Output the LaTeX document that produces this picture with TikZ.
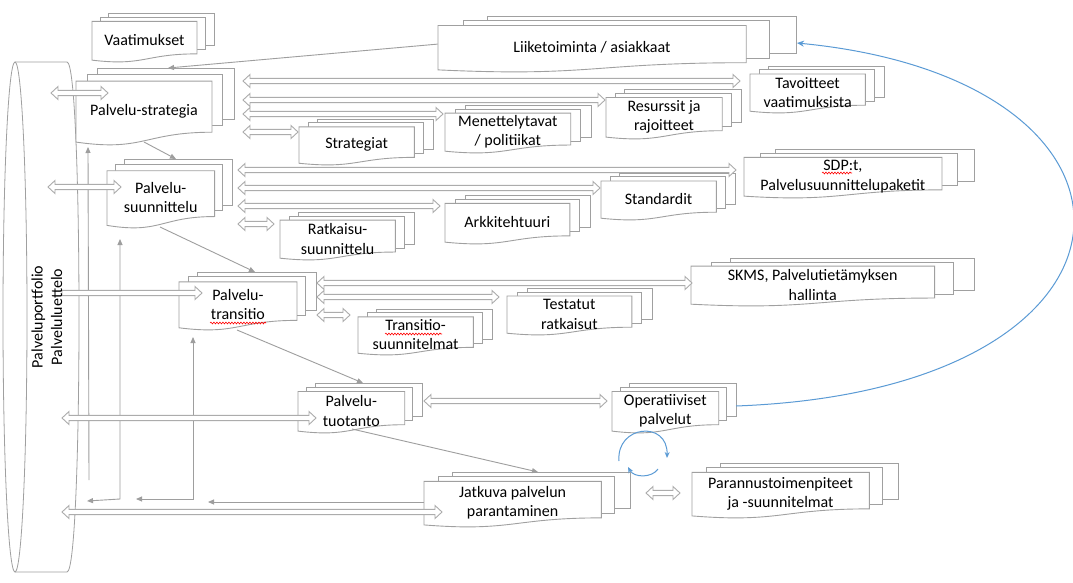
\documentclass[tikz,border=0pt]{standalone}
\usepackage{fontspec}
\setmainfont{Carlito}
\usetikzlibrary{arrows.meta,decorations.pathmorphing}

\definecolor{pageedge}{RGB}{160,160,160}
\definecolor{baredge}{RGB}{172,172,172}
\definecolor{linkgray}{RGB}{158,158,158}
\definecolor{flowblue}{RGB}{91,155,213}

\tikzset{
  docpage/.style={draw=pageedge, fill=white, line width=0.9pt},
  doctext/.style={align=center, font=\fontsize{16}{19.5}\selectfont, inner sep=0pt, text=black},
  docarea/.style={inner sep=0pt, draw=none},
  blockarr/.style={draw=baredge, fill=white, line width=0.9pt, line join=miter},
  link/.style={draw=linkgray, line width=0.9pt, -{Triangle[length=6pt,width=5pt]}},
  linkboth/.style={draw=linkgray, line width=0.9pt, {Triangle[length=6pt,width=5pt]}-{Triangle[length=6pt,width=5pt]}},
  flow/.style={draw=flowblue, line width=1pt, -{Stealth[length=7pt,width=6pt]}},
  flowsmall/.style={draw=flowblue, line width=1pt, -{Stealth[length=6pt,width=5pt]}},
  squiggle/.style={draw=red, line width=0.6pt, decorate, decoration={snake, amplitude=0.9pt, segment length=3pt}},
  cylinder line/.style={draw=pageedge, line width=0.8pt},
}

% stacked-pages shape: name, left, top, width, height, text
\newcommand\multidoc[6]{%
  \pgfmathsetmacro\mdA{#2+0.138*#4}%
  \pgfmathsetmacro\mdB{#2+#4}%
  \pgfmathsetmacro\mdC{#3+0.666*#5}%
  \filldraw[docpage] (\mdA,#3) rectangle (\mdB,\mdC);
  \pgfmathsetmacro\mdA{#2+0.071*#4}%
  \pgfmathsetmacro\mdB{#2+0.926*#4}%
  \pgfmathsetmacro\mdD{#3+0.084*#5}%
  \pgfmathsetmacro\mdC{#3+0.752*#5}%
  \filldraw[docpage] (\mdA,\mdD) rectangle (\mdB,\mdC);
  \pgfmathsetmacro\mdB{#2+0.861*#4}%
  \pgfmathsetmacro\mdD{#3+0.170*#5}%
  \pgfmathsetmacro\mdC{#3+0.834*#5}%
  \pgfmathsetmacro\mdE{#3+0.962*#5}%
  \pgfmathsetmacro\mdF{#3+1.090*#5}%
  \pgfmathsetmacro\mdG{#2+0.430*#4}%
  \filldraw[docpage] (#2,\mdE) .. controls (\mdG,\mdF) and (\mdG,\mdC) .. (\mdB,\mdC)
     -- (\mdB,\mdD) -- (#2,\mdD) -- cycle;
  \pgfmathsetmacro\mdH{#3+0.502*#5}%
  \pgfmathsetmacro\mdW{0.861*#4}%
  \pgfmathsetmacro\mdV{0.664*#5}%
  \node[docarea, minimum width=\mdW pt, minimum height=\mdV pt] (#1) at (\mdG,\mdH) {};
  \pgfmathsetmacro\mdH{#3+0.56*#5}%
  \node[doctext] (#1-text) at (\mdG,\mdH) {#6};
}

% hollow block arrows: from x, to x, y
\newcommand\bothbar[3]{%
  \filldraw[blockarr] (#1,#3) -- (#1+7,#3-6.5) -- (#1+7,#3-2.6) -- (#2-7,#3-2.6)
    -- (#2-7,#3-6.5) -- (#2,#3) -- (#2-7,#3+6.5) -- (#2-7,#3+2.6)
    -- (#1+7,#3+2.6) -- (#1+7,#3+6.5) -- cycle;}
\newcommand\rightbar[3]{%
  \filldraw[blockarr] (#1,#3-2.6) -- (#2-7,#3-2.6) -- (#2-7,#3-6.5) -- (#2,#3)
    -- (#2-7,#3+6.5) -- (#2-7,#3+2.6) -- (#1,#3+2.6) -- cycle;}

\begin{document}
\begin{tikzpicture}[x=1pt,y=-1pt]
\useasboundingbox (0,0) rectangle (1073,583);
\fill[white] (0,0) rectangle (1073,583);

% service portfolio cylinder
\draw[cylinder line] (15,317) ellipse [x radius=12, y radius=255];
\draw[cylinder line] (15,62) -- (67,62) .. controls (83,62) and (83,572) .. (67,572) -- (15,572);

% documents
\multidoc{vaat}{92}{13}{122}{49}{Vaatimukset}
\multidoc{liike}{438}{16}{358}{56}{Liiketoiminta / asiakkaat}
\multidoc{pstrat}{76}{68}{158}{77}{Palvelu-strategia}
\multidoc{tavo}{750}{66}{134}{47}{Tavoitteet\\vaatimuksista}
\multidoc{resu}{606}{89}{135}{50}{Resurssit ja\\rajoitteet}
\multidoc{mene}{445}{105}{146}{48}{Menettelytavat\\/ politiikat}
\multidoc{strat}{299}{119}{134}{46}{Strategiat}
\multidoc{psuun}{107}{159}{125}{69}{Palvelu-\\suunnittelu}
\multidoc{sdp}{744}{149}{230}{49}{SDP:t,\\Palvelusuunnittelupaketit}
\multidoc{stand}{601}{173}{134}{47}{Standardit}
\multidoc{arkk}{445}{195}{145}{49}{Arkkitehtuuri}
\multidoc{ratk}{280}{212}{134}{48}{Ratkaisu-\\suunnittelu}
\multidoc{ptrans}{179}{272}{137}{58}{Palvelu-\\transitio}
\multidoc{skms}{691}{258}{283}{48}{SKMS, Palvelutietämyksen\\hallinta}
\multidoc{testa}{507}{288}{145}{47}{Testatut\\ratkaisut}
\multidoc{trsuun}{358}{309}{134}{46}{Transitio-\\suunnitelmat}
\multidoc{ptuot}{298}{383}{124}{50}{Palvelu-\\tuotanto}
\multidoc{oper}{612}{383}{124}{50}{Operatiiviset\\palvelut}
\multidoc{jatk}{424}{472}{206}{55}{Jatkuva palvelun\\parantaminen}
\multidoc{paran}{692}{463}{206}{55}{Parannustoimenpiteet\\ja -suunnitelmat}

% spell-check marks
\draw[squiggle] (210,323) -- (266,323);
\draw[squiggle] (385,334) -- (442,334);
\draw[squiggle] (822,173) -- (852,173);

% process flow
\draw[link] (liike.west) -- (168,68);
\draw[link] (144,142) -- (176,159);
\draw[link] (160,227) -- (255,272);
\draw[link] (237,330) -- (363,383);
\draw[link] (352,429) -- (538,472);

% feedback from continual improvement
\draw[link] (jatk.west |- 0,502) -- (208,502);
\draw[link] (89,480) -- (88,147);
\draw[linkboth] (87,501) -- (120,499) -- (120,239);
\draw[linkboth] (136,499) -- (193,499) -- (193,337);

% exchanges around service strategy
\bothbar{51}{108}{93}
\bothbar{243}{740}{81}
\bothbar{243}{605}{100}
\bothbar{243}{443}{114}
\bothbar{243}{298}{132}
% exchanges around service design
\bothbar{48}{121}{187}
\bothbar{238}{736}{170}
\bothbar{238}{600}{188}
\bothbar{238}{440}{206}
\bothbar{238}{274}{224}
% exchanges around service transition
\rightbar{62}{202}{293}
\bothbar{317}{692}{283}
\bothbar{317}{499}{297}
\bothbar{317}{350}{315}
% operation and improvement
\bothbar{62}{316}{418}
\bothbar{424}{607}{401}
\bothbar{62}{442}{512}
\bothbar{646}{680}{493}

% portfolio label
\node[doctext, rotate=90] (portfolio) at (47,317) {Palveluportfolio\\Palveluluettelo};

% feedback to business and the operate/improve cycle
\draw[flow] (736,406) .. controls (1170,390) and (1180,80) .. (797,43);
\draw[flowsmall] (619,461) .. controls (616,425) and (668,420) .. (667,458);
\draw[flowsmall] (658,469) .. controls (652,478) and (634,478) .. (628,467);
\end{tikzpicture}
\end{document}
